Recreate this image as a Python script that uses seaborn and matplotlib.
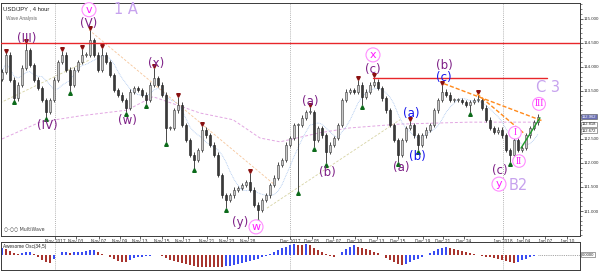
import numpy as np
import pandas as pd
import matplotlib
matplotlib.use("Agg")
import matplotlib.pyplot as plt
import seaborn as sns

# ---------------- data ----------------
first_open = 113.75
closes = [113.90, 114.25, 113.73, 113.35, 113.63, 113.98, 114.35, 114.04, 113.73, 113.56,
          113.31, 113.06, 113.31, 113.73, 114.10, 114.25, 113.94, 113.63, 113.94, 114.10,
          114.25, 114.25, 114.56, 114.25, 113.94, 114.25, 114.10, 113.83, 113.52, 113.42,
          113.31, 113.15, 113.48, 113.56, 113.52, 113.42, 113.31, 113.63, 113.77, 113.63,
          113.42, 112.73, 112.73, 113.10, 113.21, 112.79, 112.48, 112.17, 112.06, 112.27,
          112.69, 112.58, 112.38, 112.17, 111.75, 111.33, 111.23, 111.33, 111.44, 111.48,
          111.54, 111.60, 111.44, 111.13, 111.02, 111.23, 111.33, 111.54, 111.69, 111.96,
          112.06, 112.38, 112.52, 112.79, 112.79, 112.94, 113.06, 113.06, 112.48, 112.73,
          112.58, 112.23, 112.38, 112.52, 112.79, 113.31, 113.48, 113.52, 113.48, 113.63,
          113.38, 113.48, 113.63, 113.69, 113.56, 113.35, 113.10, 112.79, 112.48, 112.17,
          112.48, 112.73, 112.79, 112.58, 112.38, 112.58, 112.69, 112.79, 113.10, 113.31,
          113.48, 113.42, 113.31, 113.31, 113.31, 113.27, 113.21, 113.27, 113.31, 113.31,
          113.15, 112.90, 112.73, 112.65, 112.69, 112.58, 112.27, 112.17, 112.48, 112.27,
          112.31, 112.58, 112.73, 112.85, 112.96]

frac_hi_idx = [1, 6, 15, 20, 22, 25, 38, 44, 50, 62, 77, 89, 93, 102, 110, 119]
frac_hi_val = [114.29, 114.50, 114.33, 114.37, 114.77, 114.40, 113.98, 113.38, 112.77,
               111.79, 113.17, 113.73, 113.79, 112.88, 113.63, 113.44]
frac_lo_idx = [3, 11, 17, 31, 36, 41, 48, 56, 64, 74, 78, 81, 90, 99, 104, 117, 127]
frac_lo_val = [113.31, 112.94, 113.50, 113.06, 113.23, 112.44, 111.88, 111.06, 110.83,
               111.40, 112.33, 112.00, 113.21, 112.02, 112.27, 113.06, 112.02]

ao_values = [0.29, 0.25, 0.17, 0.08, 0.04, 0.08, 0.13, 0.13, 0.04, -0.08,
             -0.21, -0.29, -0.33, -0.17, 0.00, 0.13, 0.13, 0.08, 0.13, 0.13,
             0.13, 0.17, 0.21, 0.21, 0.13, 0.04, 0.00, -0.08, -0.17, -0.25,
             -0.29, -0.29, -0.21, -0.13, -0.08, -0.08, -0.04, -0.04, 0.00, 0.00,
             -0.04, -0.13, -0.21, -0.25, -0.29, -0.33, -0.38, -0.42, -0.46, -0.50,
             -0.50, -0.50, -0.50, -0.50, -0.50, -0.50, -0.46, -0.46, -0.42, -0.38,
             -0.33, -0.29, -0.25, -0.21, -0.17, -0.08, -0.04, 0.04, 0.13, 0.21,
             0.29, 0.33, 0.38, 0.42, 0.38, 0.38, 0.42, 0.38, 0.29, 0.21,
             0.13, 0.04, -0.04, -0.08, 0.00, 0.13, 0.25, 0.33, 0.38, 0.33,
             0.29, 0.25, 0.21, 0.13, 0.08, 0.00, -0.13, -0.21, -0.29, -0.38,
             -0.42, -0.38, -0.29, -0.21, -0.17, -0.08, 0.00, 0.08, 0.17, 0.25,
             0.29, 0.33, 0.29, 0.25, 0.21, 0.17, 0.13, 0.08, 0.04, 0.00,
             -0.04, -0.08, -0.08, -0.13, -0.17, -0.21, -0.25, -0.29, -0.33, -0.29,
             -0.21, -0.17, -0.08, -0.04, 0.00]

slow_ma_x = [0, 9.5, 19.5, 31.25, 37.75, 49.5, 57.75, 64.5, 69.5, 79.5, 87, 99.5, 117, 134.5]
slow_ma_y = [112.50, 112.85, 112.98, 113.10, 113.38, 113.04, 112.90, 112.52, 112.44,
             112.63, 112.73, 112.81, 112.85, 112.85]

red_level_1 = 114.49
red_level_2 = 113.76
red_level_2_x = [92.75, 136.25]
orange_a_x, orange_a_y = [110.5, 135.0], [113.65, 112.88]
orange_b_x, orange_b_y = [118.75, 130.75], [113.44, 112.60]
green_x, green_y = [129.75, 134.5], [112.31, 112.94]
lorange_x, lorange_y = [21.75, 68.25], [114.77, 111.54]
tan1_x, tan1_y = [-0.5, 22.0], [113.25, 114.15]
tan2_x, tan2_y = [66.25, 99.5], [111.06, 112.90]

separators = [13.25, 72.0, 125.25]
xtick_pos = [13.25, 18.5, 24.25, 29.5, 34.5, 40.0, 45.25, 51.25, 56.25, 61.5, 72.0,
             77.5, 82.75, 88.25, 93.75, 99.0, 105.25, 110.25, 115.5, 125.25, 130.25,
             135.75, 141.25]
xtick_lab = ["Nov 2017", "Nov 03", "Nov 07", "Nov 09", "Nov 13", "Nov 15", "Nov 17",
             "Nov 21", "Nov 23", "Nov 28", "Dec 2017", "Dec 05", "Dec 07", "Dec 10",
             "Dec 13", "Dec 15", "Dec 19", "Dec 21", "Dec 24", "Jan 2018", "Jan 04",
             "Jan 07", "Jan 10"]
ytick_vals = [111.0, 111.5, 112.0, 112.5, 113.0, 113.5, 114.0, 114.5, 115.0]
ytick_lab = ["111.000", "111.500", "112.000", "112.500", "", "113.500", "114.000",
             "114.500", "115.000"]

purple_lab = ["(III)", "(IV)", "(V)", "(w)", "(x)", "(y)", "(a)", "(b)", "(c)", "(a)", "(b)", "(c)"]
purple_x = [6.25, 11.25, 21.75, 31.25, 38.5, 59.5, 77.0, 81.25, 92.75, 99.75, 110.5, 124.5]
purple_y = [114.60, 112.79, 114.90, 112.88, 114.08, 110.77, 113.27, 111.81, 113.94, 111.90, 114.02, 111.85]
blue_lab = ["(a)", "(b)", "(c)"]
blue_x = [102.25, 103.75, 110.5]
blue_y = [113.04, 112.13, 113.77]
circ_lab = ["v", "w", "x", "y", "I", "II", "III"]
circ_x = [21.75, 63.5, 92.75, 124.25, 128.25, 129.25, 134.25]
circ_y = [115.19, 110.67, 114.25, 111.56, 112.63, 112.04, 113.23]
big_lab = ["1 A", "C 3", "B2"]
big_x = [31.0, 136.5, 129.0]
big_y = [115.19, 113.58, 111.54]

box_vals = [112.96, 112.81, 112.67]
box_txt = ["112.962", "112.818", "112.672"]

# ---------------- figure ----------------
sns.set_theme(style="white")
plt.rcParams["font.family"] = ["DejaVu Sans"]
small_font = ["Liberation Sans", "DejaVu Sans"]

fig = plt.figure(figsize=(6.0, 2.71), dpi=100)
ax = fig.add_axes([1 / 600, 1 - 236 / 271, 579 / 600, 233 / 271])
ao_ax = fig.add_axes([1 / 600, 1 / 271, 579 / 600, 28 / 271])

n = len(closes)
idx = np.arange(n)
opens = np.array([first_open] + closes[:-1])
cl = np.array(closes)
wick = 0.05
highs = np.maximum(opens, cl) + wick
lows = np.minimum(opens, cl) - wick
for i, v in zip(frac_hi_idx, frac_hi_val):
    highs[i] = max(highs[i], v)
for i, v in zip(frac_lo_idx, frac_lo_val):
    lows[i] = min(lows[i], v)

df = pd.DataFrame({"i": idx, "close": cl})
df["fast"] = df["close"].rolling(7, min_periods=1).mean()

# background helper lines
for s in separators:
    ax.axvline(s, color="#9a9a9a", lw=0.6, ls=(0, (1, 1.5)), zorder=1)
    ao_ax.axvline(s, color="#9a9a9a", lw=0.6, ls=(0, (1, 1.5)), zorder=1)

sns.lineplot(x=slow_ma_x, y=slow_ma_y, ax=ax, color="#e2a6e2", lw=0.7,
             linestyle=(0, (3, 2)), zorder=1)
sns.lineplot(data=df, x="i", y="fast", ax=ax, color="#a9c6ef", lw=0.6,
             linestyle=(0, (1, 1)), zorder=1)
sns.lineplot(x=lorange_x, y=lorange_y, ax=ax, color="#f6c59a", lw=0.6,
             linestyle=(0, (3, 2)), zorder=1)
sns.lineplot(x=tan1_x, y=tan1_y, ax=ax, color="#d6d3a2", lw=0.6,
             linestyle=(0, (3, 2)), zorder=1)
sns.lineplot(x=tan2_x, y=tan2_y, ax=ax, color="#d6d3a2", lw=0.6,
             linestyle=(0, (3, 2)), zorder=1)

# candles
up = cl >= opens
ax.vlines(idx, lows, highs, color="#2a2a2a", lw=0.6, zorder=2)
body_bot = np.minimum(opens, cl)
body_h = np.maximum(np.abs(cl - opens), 0.012)
ax.bar(idx[up], body_h[up], bottom=body_bot[up], width=0.65, color="#c8c8c8",
       edgecolor="#3a3a3a", linewidth=0.4, zorder=3)
ax.bar(idx[~up], body_h[~up], bottom=body_bot[~up], width=0.65, color="#3a3a3a",
       edgecolor="#1a1a1a", linewidth=0.4, zorder=3)

# fractal markers
ax.plot(frac_hi_idx, np.array(frac_hi_val) + 0.035, linestyle="none", marker="v",
        markersize=2.6, color="#8a1010", zorder=4)
ax.plot(frac_lo_idx, np.array(frac_lo_val) - 0.035, linestyle="none", marker="^",
        markersize=2.6, color="#0c6a1a", zorder=4)

# horizontal levels and trend lines
ax.axhline(red_level_1, color="#e8262a", lw=1.0, zorder=5)
sns.lineplot(x=red_level_2_x, y=[red_level_2, red_level_2], ax=ax, color="#e8262a",
             lw=1.0, zorder=5)
sns.lineplot(x=orange_a_x, y=orange_a_y, ax=ax, color="#ff8a1c", lw=1.0,
             linestyle=(0, (3, 1.5)), zorder=5)
sns.lineplot(x=orange_b_x, y=orange_b_y, ax=ax, color="#ff8a1c", lw=1.0,
             linestyle=(0, (3, 1.5)), zorder=5)
sns.lineplot(x=green_x, y=green_y, ax=ax, color="#1f9a2a", lw=1.0, zorder=5)

# wave labels
for t, x, y in zip(purple_lab, purple_x, purple_y):
    ax.text(x, y, t, color="#7d1f86", fontsize=8.5, ha="center", va="center", zorder=6)
for t, x, y in zip(blue_lab, blue_x, blue_y):
    ax.text(x, y, t, color="#1414ee", fontsize=8.5, ha="center", va="center", zorder=6)
for t, x, y in zip(circ_lab, circ_x, circ_y):
    roman = t.startswith("I")
    fam = ["Liberation Serif", "DejaVu Serif"] if roman else ["DejaVu Sans"]
    ax.text(x, y, t, color="#ff1aff", fontsize=7 if roman else 8,
            family=fam, ha="center", va="center", zorder=6,
            bbox=dict(boxstyle="circle,pad=0.18", fc="white", ec="#ff8cff", lw=0.8))
for t, x, y in zip(big_lab, big_x, big_y):
    ax.text(x, y, t, color="#c7a2ee", fontsize=10.5, ha="center", va="center", zorder=6)

ax.text(0.004, 0.985, "USD/JPY , 4 hour", transform=ax.transAxes, fontsize=4.2,
        color="#222222", ha="left", va="top", family=small_font)
ax.text(0.008, 0.945, "Wave Analysis", transform=ax.transAxes, fontsize=3.4,
        color="#666666", ha="left", va="top", family=small_font)
ax.text(0.006, 0.02, "\u25cb-\u25cb\u25cb MultiWave", transform=ax.transAxes,
        fontsize=3.4, color="#444444", ha="left", va="bottom")

# current price boxes on the price scale
ytr = ax.get_yaxis_transform()
box_fc = ["#6a6fb4", "white", "white"]
box_tc = ["#ffffff", "#222222", "#222222"]
for v, t, fc, tc in zip(box_vals, box_txt, box_fc, box_tc):
    ax.text(1.003, v, t, transform=ytr, fontsize=3.0, color=tc, family=small_font,
            va="center", ha="left", zorder=7, clip_on=False,
            bbox=dict(boxstyle="square,pad=0.12", fc=fc, ec="#555555", lw=0.4))

# axes formatting
ax.set_xlim(-0.25, 144.5)
ax.set_ylim(110.48, 115.33)
ax.yaxis.tick_right()
ax.set_yticks(ytick_vals)
ax.set_yticklabels(ytick_lab, family=small_font)
ax.set_yticks(np.arange(110.5, 115.31, 0.1), minor=True)
ax.set_xticks(xtick_pos)
ax.set_xticklabels(xtick_lab, family=small_font)
ax.tick_params(axis="y", which="major", length=2.0, width=0.5, pad=0.6, labelsize=3.2,
               labelcolor="#333333", right=True, left=False)
ax.tick_params(axis="y", which="minor", length=1.2, width=0.4, right=True, left=False)
ax.tick_params(axis="x", length=1.8, width=0.5, pad=0.6, labelsize=3.4,
               labelcolor="#333333", bottom=True)
ax.set_xlabel("")
ax.set_ylabel("")
for sp in ax.spines.values():
    sp.set_color("#3a3a3a")
    sp.set_linewidth(0.7)

# awesome oscillator panel
ao = np.array(ao_values)
rising = np.zeros(n, dtype=bool)
state = True
for i in range(n):
    if i > 0 and ao[i] > ao[i - 1]:
        state = True
    elif i > 0 and ao[i] < ao[i - 1]:
        state = False
    rising[i] = state
ao_ax.bar(idx[rising], ao[rising], width=0.6, color="#3a4cf2", linewidth=0, zorder=2)
ao_ax.bar(idx[~rising], ao[~rising], width=0.6, color="#a8342e", linewidth=0, zorder=2)
ao_ax.plot([n - 1, 144.5], [ao[-1], ao[-1]], color="#888888", lw=0.6,
           ls=(0, (1, 1.2)), zorder=1)
ao_ax.set_xlim(-0.25, 144.5)
ao_ax.set_ylim(-0.625, 0.52)
ao_ax.set_xticks([])
ao_ax.set_yticks([])
ao_ax.text(0.004, 0.93, "Awesome Osc(34,5)", transform=ao_ax.transAxes, fontsize=3.4,
           color="#222222", ha="left", va="top", family=small_font)
ao_ytr = ao_ax.get_yaxis_transform()
ao_ax.text(1.003, 0.0, "0.0000", transform=ao_ytr, fontsize=3.0, color="#222222",
           va="center", ha="left", clip_on=False, family=small_font,
           bbox=dict(boxstyle="square,pad=0.12", fc="white", ec="#555555", lw=0.4))
for sp in ao_ax.spines.values():
    sp.set_color("#3a3a3a")
    sp.set_linewidth(0.7)

fig.savefig("out.png", dpi=100)
